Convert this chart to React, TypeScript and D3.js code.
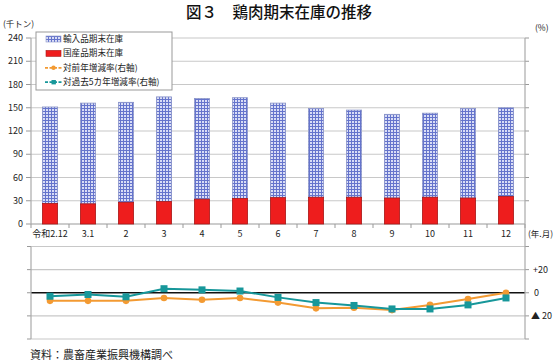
import * as d3 from "d3";

const months = ["令和2.12", "3.1", "2", "3", "4", "5", "6", "7", "8", "9", "10", "11", "12"];
// 千トン
const imported = [124.5, 130, 129, 135, 130, 130, 122, 114.5, 112.5, 108, 108.5, 115.5, 114.5];
const domestic = [26.5, 26, 28, 29, 32, 33, 34, 34.5, 34.5, 33.5, 34.5, 33.5, 35.5];
// %
const yoy = [-7, -7, -7, -4.5, -6, -4.5, -8.5, -13.5, -13, -15, -10.5, -5.5, 0];
const vs5y = [-3, -1.5, -3.5, 3.5, 2.5, 1.5, -4, -8.5, -11, -14, -14, -10.5, -4.5];

const leftTicks = [0, 30, 60, 90, 120, 150, 180, 210, 240];
const rightTicks = [-40, -20, 0, 20, 40];
const rightLabels: Record<number, string> = { 20: "+20", 0: "0", [-20]: "▲ 20" };

const legendItems = ["輸入品期末在庫", "国産品期末在庫", "対前年増減率(右軸)", "対過去5カ年増減率(右軸)"];

const W = 558;
const H = 361;
const font = "'Noto Sans CJK JP', 'Noto Sans', sans-serif";
const ORANGE = "#f39a32";
const TEAL = "#17979a";
const GRID = "#c8c8c8";

export default function App() {
  const left = 31, right = 525;
  const x = d3.scaleBand<string>().domain(months).range([left, right]).paddingInner(0.6).paddingOuter(0.3);
  const yTop = d3.scaleLinear().domain([0, 240]).range([224, 38]);
  const yBot = d3.scaleLinear().domain([-40, 40]).range([339, 246.5]);
  const cx = (m: string) => (x(m) ?? 0) + x.bandwidth() / 2;
  const step = x.step();

  const line = d3.line<number>().x((_, i) => cx(months[i])).y((d) => yBot(d));

  return (
    <svg width={W} height={H} style={{ position: "absolute", left: 0, top: 0, background: "#fff" }} fontFamily={font}>
      <defs>
        <pattern id="grid" width={3} height={3} patternUnits="userSpaceOnUse">
          <rect width={3} height={3} fill="#d9ddf6" />
          <path d="M0 0.5H3M0.5 0V3" stroke="#6574cc" strokeWidth={1} />
        </pattern>
      </defs>

      <text x={279} y={18} textAnchor="middle" fontSize={15.5} fontWeight={500} fill="#111">
        図３　鶏肉期末在庫の推移
      </text>
      <text x={3} y={27} fontSize={8.5} fill="#222">(千トン)</text>
      <text x={535} y={31} fontSize={8.5} fill="#222">(%)</text>

      {/* top gridlines */}
      {leftTicks.map((t) => (
        <g key={t}>
          <line x1={left} x2={right} y1={yTop(t)} y2={yTop(t)} stroke={t === 0 ? "#999" : GRID} strokeWidth={1.2} />
          <line x1={left - 5} x2={left} y1={yTop(t)} y2={yTop(t)} stroke="#999" />
          <text x={left - 8} y={yTop(t)} dy="0.35em" textAnchor="end" fontSize={9} fill="#222">{t}</text>
          {t > 0 && <line x1={right} x2={right + 4} y1={yTop(t)} y2={yTop(t)} stroke="#999" />}
        </g>
      ))}
      <line x1={left} x2={left} y1={yTop(240)} y2={yTop(0)} stroke="#aaa" strokeWidth={1.2} />

      {/* x ticks + labels */}
      {d3.range(months.length + 1).map((i) => (
        <line key={i} x1={left + i * step} x2={left + i * step} y1={224} y2={228} stroke="#999" />
      ))}
      {months.map((m) => (
        <text key={m} x={cx(m)} y={234} dy="0.35em" textAnchor="middle" fontSize={9} fill="#222">{m}</text>
      ))}
      <text x={528} y={234} dy="0.35em" fontSize={8.5} fill="#222">(年.月)</text>

      {/* stacked bars */}
      {months.map((m, i) => (
        <g key={m}>
          <rect x={x(m)} y={yTop(domestic[i] + imported[i])} width={x.bandwidth()}
            height={yTop(domestic[i]) - yTop(domestic[i] + imported[i])} fill="url(#grid)" stroke="#8a94c8" strokeWidth={0.8} />
          <rect x={x(m)} y={yTop(domestic[i])} width={x.bandwidth()} height={yTop(0) - yTop(domestic[i])}
            fill="#ee1d1d" stroke="#a81818" strokeWidth={0.8} />
        </g>
      ))}

      {/* bottom panel */}
      {rightTicks.map((t) => (
        <g key={t}>
          <line x1={left} x2={right} y1={yBot(t)} y2={yBot(t)} stroke={t === 0 ? "#111" : GRID} strokeWidth={t === 0 ? 1.6 : 1.2} />
          <line x1={right} x2={right + 4} y1={yBot(t)} y2={yBot(t)} stroke="#999" />
          <line x1={left - 4} x2={left} y1={yBot(t)} y2={yBot(t)} stroke="#999" />
          {rightLabels[t] && (
            <text x={t === -20 ? 531 : t === 0 ? 534 : 533} y={yBot(t)} dy="0.35em" fontSize={9} fill="#222">{rightLabels[t]}</text>
          )}
        </g>
      ))}
      <line x1={left} x2={left} y1={yBot(40)} y2={yBot(-40)} stroke="#aaa" strokeWidth={1.2} />
      <line x1={right} x2={right} y1={yTop(240)} y2={yBot(-40)} stroke="#aaa" strokeWidth={1.2} />

      <path d={line(yoy) ?? ""} fill="none" stroke={ORANGE} strokeWidth={2} />
      {yoy.map((v, i) => (
        <circle key={i} cx={cx(months[i])} cy={yBot(v)} r={3.3} fill={ORANGE} />
      ))}
      <path d={line(vs5y) ?? ""} fill="none" stroke={TEAL} strokeWidth={2} />
      {vs5y.map((v, i) => (
        <rect key={i} x={cx(months[i]) - 3.5} y={yBot(v) - 3.5} width={7} height={7} fill={TEAL} />
      ))}

      {/* legend */}
      <rect x={36} y={32} width={136} height={58} fill="#fff" stroke="#999" strokeWidth={1} />
      {legendItems.map((label, i) => {
        const ly = 39 + i * 14.4;
        return (
          <g key={label}>
            {i === 0 && <rect x={46} y={ly - 3} width={15} height={6} fill="url(#grid)" stroke="#8a94c8" strokeWidth={0.6} />}
            {i === 1 && <rect x={46} y={ly - 3} width={15} height={6} fill="#ee1d1d" stroke="#a81818" strokeWidth={0.6} />}
            {i === 2 && (
              <g>
                <line x1={45} x2={62} y1={ly} y2={ly} stroke={ORANGE} strokeWidth={1.8} strokeDasharray="3 1.5" />
                <circle cx={53.5} cy={ly} r={2.2} fill={ORANGE} />
              </g>
            )}
            {i === 3 && (
              <g>
                <line x1={45} x2={62} y1={ly} y2={ly} stroke={TEAL} strokeWidth={1.8} strokeDasharray="3 1.5" />
                <rect x={51.5} y={ly - 2.2} width={4.4} height={4.4} fill={TEAL} />
              </g>
            )}
            <text x={63} y={ly} dy="0.35em" fontSize={8.6} fill="#222">{label}</text>
          </g>
        );
      })}

      <text x={30} y={355} dy="0.35em" fontSize={11} fill="#222">資料：農畜産業振興機構調べ</text>
    </svg>
  );
}
